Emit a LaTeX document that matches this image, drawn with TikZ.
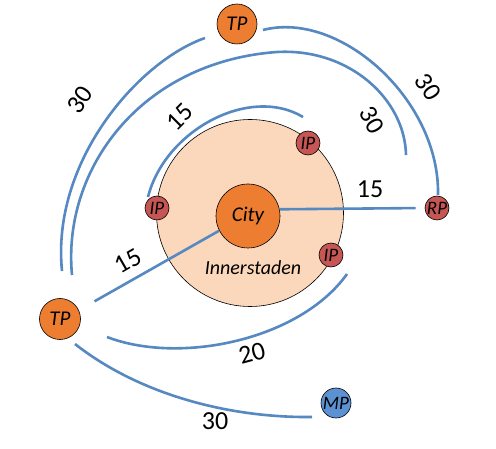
\documentclass[tikz,border=0pt]{standalone}
\usepackage{fontspec}
\setmainfont{Carlito}
\definecolor{lineblue}{RGB}{86,136,194}
\definecolor{orangefill}{RGB}{237,125,49}
\definecolor{peach}{RGB}{251,216,187}
\definecolor{ipred}{RGB}{198,86,84}
\definecolor{mpblue}{RGB}{92,146,210}
\begin{document}
\begin{tikzpicture}[x=1pt,y=-1pt,
  conn/.style={draw=lineblue, line width=2.6pt},
  place/.style={circle, draw=black, line width=0.6pt, inner sep=0pt, font=\fontsize{21}{24}\selectfont\itshape},
  small/.style={circle, draw=black, line width=0.6pt, inner sep=0pt, font=\fontsize{19}{22}\selectfont\itshape},
  num/.style={font=\fontsize{26}{30}\selectfont, inner sep=0pt}]
\useasboundingbox[fill=white] (0,0) rectangle (496,449);
% inner city area
\node[circle, draw=black, line width=0.6pt, fill=peach, minimum size=187pt] (inner) at (250,213) {};
\node[font=\fontsize{20}{24}\selectfont\itshape] (innerlbl) at (253,268) {Innerstaden};
% places
\node[place, fill=orangefill, minimum size=64pt] (city) at (248,216) {City};
\node[place, fill=orangefill, minimum size=40pt] (tpt) at (237,24) {TP};
\node[place, fill=orangefill, minimum size=41pt] (tpl) at (60,319) {TP};
\node[small, fill=ipred, minimum size=24pt] (ipa) at (308,143) {IP};
\node[small, fill=ipred, minimum size=24pt] (ipb) at (157,208) {IP};
\node[small, fill=ipred, minimum size=24pt] (ipc) at (331,255) {IP};
\node[small, fill=ipred, minimum size=24pt] (rp) at (437,208) {RP};
\node[small, fill=mpblue, minimum size=30pt] (mp) at (336,403) {MP};
% connector end points
\coordinate (o1s) at (205,38);
\coordinate (o1e) at (62,271);
\coordinate (o2s) at (263,30);
\coordinate (o2e) at (438,195);
\coordinate (s1) at (72,275);
\coordinate (s2) at (277,52);
\coordinate (s3) at (406,155);
\coordinate (i1) at (148,197);
\coordinate (i2) at (303,117);
\coordinate (t1) at (107,337);
\coordinate (t2) at (347,274);
\coordinate (m1) at (75,344);
\coordinate (m2) at (312,417);
% connectors
\draw[conn, shorten >=9pt] (city.12) -- (rp.west);
\draw[conn, shorten >=18pt] (city.207) -- (tpl.25);
\draw[conn] (o1s) .. controls (139,61) and (51,161) .. (o1e);
\draw[conn] (o2s) .. controls (340,10) and (440,100) .. (o2e);
\draw[conn] (s1) .. controls (62,170) and (140,62) .. (s2)
  .. controls (350,48) and (405,100) .. (s3);
\draw[conn] (i1) .. controls (165,130) and (250,85) .. (i2);
\draw[conn] (t1) .. controls (180,365) and (300,340) .. (t2);
\draw[conn] (m1) .. controls (140,395) and (230,418) .. (m2);
% labels
\node[num] (l1) at (370,189) {15};
\node[num, rotate=30] (l2) at (128,261) {15};
\node[num, rotate=45] (l3) at (180,117) {15};
\node[num, rotate=55] (l4) at (80,100) {30};
\node[num, rotate=-57] (l5) at (428,87) {30};
\node[num, rotate=-60] (l6) at (372,120) {30};
\node[num, rotate=15] (l7) at (252,353) {20};
\node[num] (l8) at (215,421) {30};
\end{tikzpicture}
\end{document}
